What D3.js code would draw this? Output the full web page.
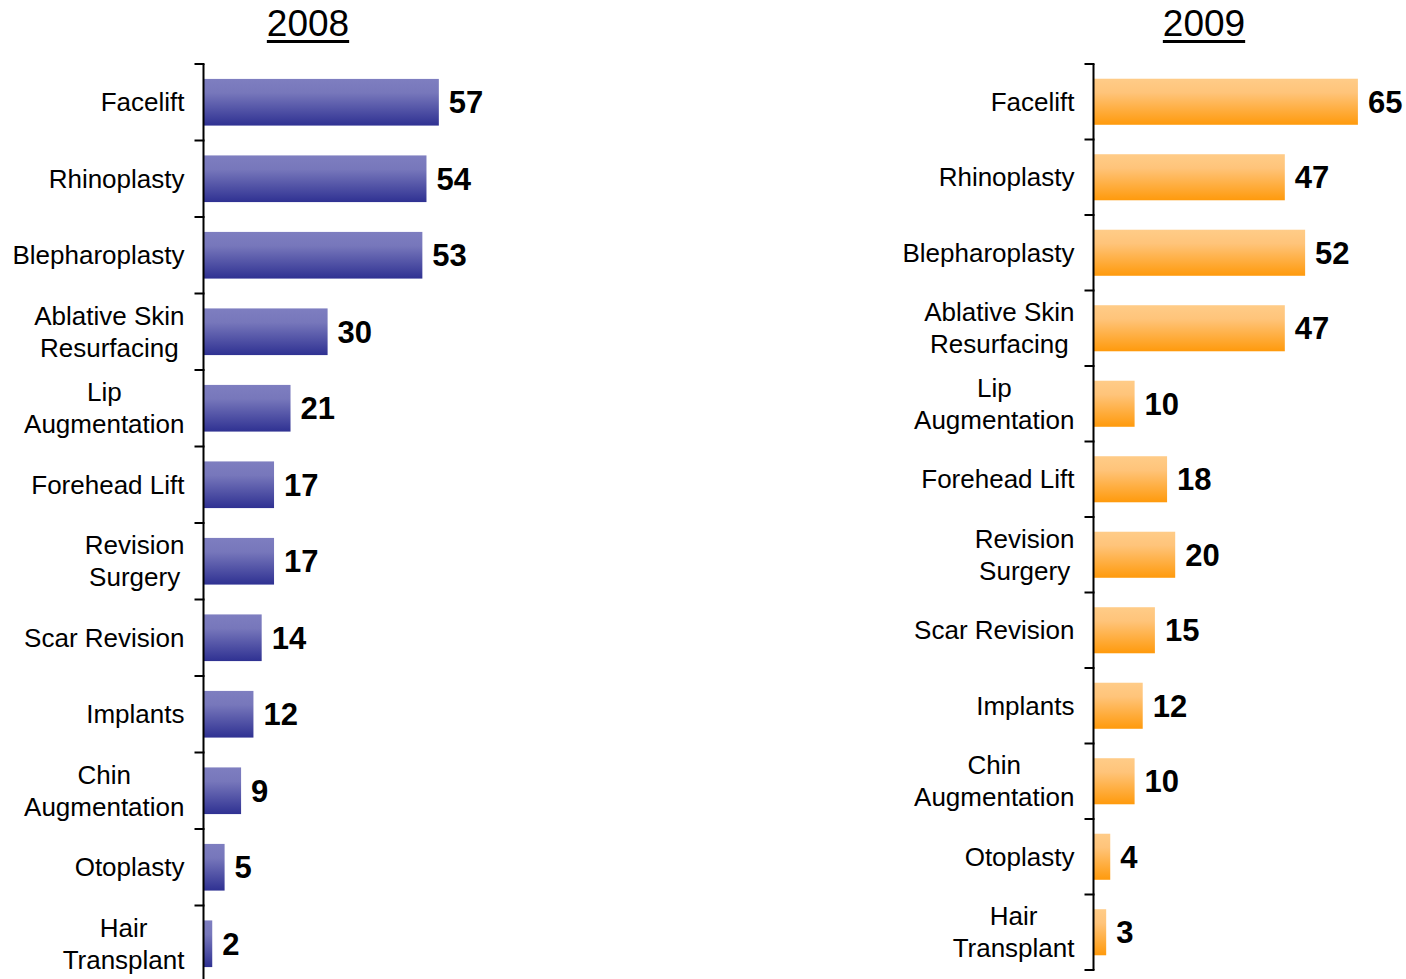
<!DOCTYPE html>
<html><head><meta charset="utf-8">
<script src="https://cdn.jsdelivr.net/npm/d3@7"></script>
<style>body{margin:0;background:#fff}svg{display:block}</style>
</head><body><svg id="c" width="1406" height="979"></svg>
<script>
const categories = ["Facelift","Rhinoplasty","Blepharoplasty","Ablative Skin\nResurfacing","Lip\nAugmentation","Forehead Lift","Revision\nSurgery","Scar Revision","Implants","Chin\nAugmentation","Otoplasty","Hair\nTransplant"];
const values2008 = [57,54,53,30,21,17,17,14,12,9,5,2];
const values2009 = [65,47,52,47,10,18,20,15,12,10,4,3];
const titles = ["2008","2009"];

const svg = d3.select("#c");
const defs = svg.append("defs");
function grad(id, top, mid, bot){
  const g = defs.append("linearGradient").attr("id",id).attr("x1",0).attr("y1",0).attr("x2",0).attr("y2",1);
  g.append("stop").attr("offset","0%").attr("stop-color",top);
  g.append("stop").attr("offset","30%").attr("stop-color",mid);
  g.append("stop").attr("offset","100%").attr("stop-color",bot);
}
grad("gBlue","#7e7ec0","#7777bb","#2f3192");
grad("gOrange","#ffcc88","#ffc47a","#ff9a0c");

const panels = [
  {title:titles[0], values:values2008, axisX:203.5, y0:64, step:76.5, k:4.12, fill:"url(#gBlue)", titleX:308},
  {title:titles[1], values:values2009, axisX:1093.5, y0:64, step:75.5, k:4.06, fill:"url(#gOrange)", titleX:1204}
];
const FONT = "'Liberation Sans', Arial, sans-serif";

panels.forEach(p=>{
  const g = svg.append("g");
  const pad = 0.39;
  const y = d3.scaleBand().domain(categories).range([p.y0, p.y0 + categories.length*p.step]).paddingInner(pad).paddingOuter(pad/2);
  const x = d3.scaleLinear().domain([0,65]).range([p.axisX+0.5, p.axisX+0.5+65*p.k]);
  g.selectAll("rect").data(categories).join("rect")
    .attr("x", x(0)).attr("y", d=>y(d))
    .attr("width",(d,i)=>x(p.values[i])-x(0)).attr("height", y.bandwidth())
    .attr("fill", p.fill);
  const bounds = d3.range(categories.length+1).map(i=> i===categories.length ? y.range()[1] : y(categories[i]) - y.step()*pad/2);
  g.append("line").attr("x1",p.axisX).attr("x2",p.axisX).attr("y1",bounds[0]).attr("y2",bounds[bounds.length-1]).attr("stroke","#000").attr("stroke-width",2);
  g.selectAll("line.t").data(bounds).join("line").attr("class","t")
    .attr("x1",p.axisX-9).attr("x2",p.axisX+1).attr("y1",d=>d).attr("y2",d=>d).attr("stroke","#000").attr("stroke-width",2);
  g.selectAll("text.v").data(categories).join("text").attr("class","v")
    .attr("x",(d,i)=>x(p.values[i])+10).attr("y",d=>y(d)+y.bandwidth()/2)
    .attr("dy","0.36em").attr("font-family",FONT).attr("font-weight","bold").attr("font-size",31)
    .attr("fill","#000")
    .text((d,i)=>p.values[i]);
  const rightEdge = p.axisX - 19;
  categories.forEach(c=>{
    const lines = c.split("\n");
    const cy = y(c)+y.bandwidth()/2;
    const lh = 32;
    const t = g.append("text").attr("font-family",FONT).attr("font-size",26).attr("fill","#000").attr("text-anchor","middle");
    const spans = lines.map((l,j)=> t.append("tspan").attr("y", cy + (j-(lines.length-1)/2)*lh).attr("dy","0.35em").text(l));
    let maxW = 0;
    spans.forEach(s=>{maxW = Math.max(maxW, s.node().getComputedTextLength());});
    spans.forEach(s=> s.attr("x", rightEdge - maxW/2));
  });
  const tt = g.append("text").attr("x",p.titleX).attr("y",36).attr("text-anchor","middle")
    .attr("font-family",FONT).attr("font-size",37).attr("fill","#000").text(p.title);
  const w = tt.node().getComputedTextLength();
  g.append("rect").attr("x",p.titleX-w/2).attr("y",40).attr("width",w).attr("height",3).attr("fill","#000");
});
</script></body></html>
